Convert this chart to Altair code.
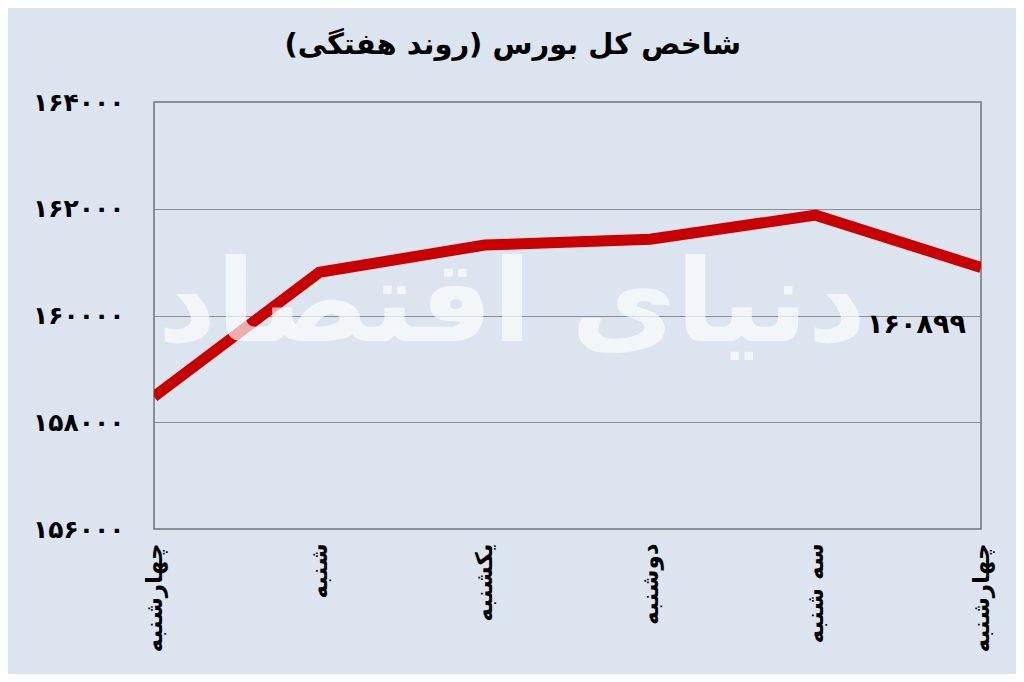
import altair as alt
import pandas as pd

days = ["چهارشنبه", "شنبه", "یکشنبه", "دوشنبه", "سه شنبه", "چهارشنبه "]
values = [158480, 160810, 161320, 161430, 161880, 160899]
y_ticks = [156000, 158000, 160000, 162000, 164000]
last_label = "۱۶۰۸۹۹"
watermark = "دنیای اقتصاد"
title_text = "شاخص کل بورس (روند هفتگی)\u200f"

df = pd.DataFrame({"day": days, "value": values, "order": list(range(len(days)))})

FONT = "DejaVu Sans"
BG = "#dce4ef"

digit_expr = "format(datum.value, 'd')"
for a, p in zip("0123456789", "۰۱۲۳۴۵۶۷۸۹"):
    digit_expr = f"replace({digit_expr}, regexp('{a}', 'g'), '{p}')"

x_enc = alt.X(
    "day:N",
    sort=days,
    scale=alt.Scale(type="point", padding=0),
    axis=alt.Axis(
        title=None, labelAngle=270, labelAlign="right", labelBaseline="middle",
        labelFontSize=23, labelFontWeight="bold", labelFont=FONT, labelColor="black",
        labelPadding=14, ticks=False, domain=False, grid=False,
    ),
)
y_enc = alt.Y(
    "value:Q",
    scale=alt.Scale(domain=[156000, 164000], nice=False, zero=False),
    axis=alt.Axis(
        title=None, values=y_ticks, labelExpr=digit_expr,
        labelFontSize=25, labelFontWeight="bold", labelFont=FONT, labelColor="black",
        labelPadding=30, ticks=False, domain=False,
        grid=True, gridColor="#8a8f96", gridWidth=1.2,
    ),
)

base = alt.Chart(df)

line = base.mark_line(color="#c80000", strokeWidth=11, strokeJoin="miter", clip=True).encode(
    x=x_enc, y=y_enc, order="order:Q"
)

label_df = pd.DataFrame({"day": [days[-1]], "value": [values[-1]], "t": [last_label]})
label = alt.Chart(label_df).mark_text(
    align="right", baseline="middle", dx=-15, dy=57,
    fontSize=27, fontWeight="bold", font=FONT, color="black",
).encode(x=alt.X("day:N", sort=days), y="value:Q", text="t:N")

wm = alt.Chart(pd.DataFrame({"t": [watermark]})).mark_text(
    fontSize=114, fontWeight="bold", font=FONT, color="white", opacity=0.68,
    align="center", baseline="middle",
).encode(x=alt.value(358), y=alt.value(205), text="t:N")

chart = alt.layer(line, wm, label).properties(
    width=827, height=427,
    title=alt.TitleParams(title_text, font=FONT, fontSize=29, fontWeight="bold",
                          color="black", anchor="middle", frame="bounds", offset=30),
    autosize=alt.AutoSizeParams(type="none"),
    padding={"left": 146, "top": 94, "right": 35, "bottom": 145},
    background=BG,
).configure_view(stroke="#6f7378", strokeWidth=1.5, fill=BG)

chart.save("out.html", embed_options={"renderer": "svg", "actions": False})
